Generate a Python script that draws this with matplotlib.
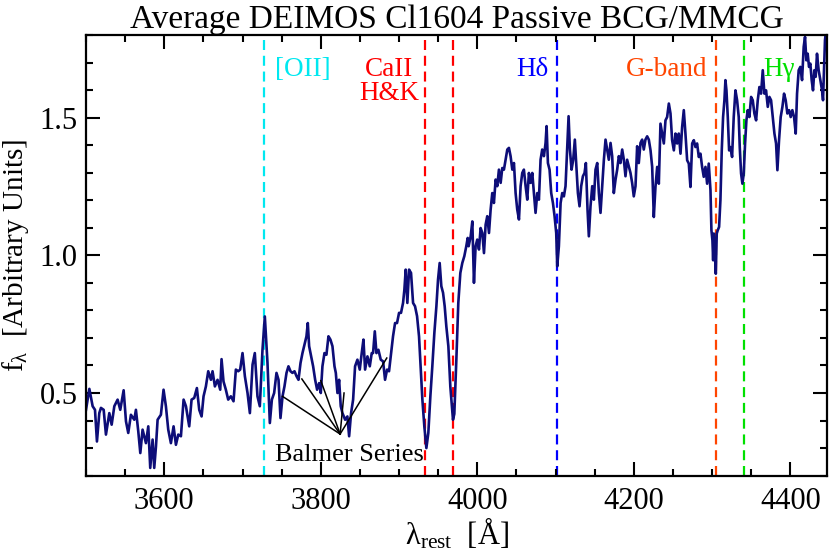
import matplotlib.pyplot as plt
from matplotlib.ticker import MultipleLocator

plt.rcParams['font.family'] = ['Liberation Serif', 'DejaVu Serif']
plt.rcParams['mathtext.fontset'] = 'custom'
plt.rcParams['mathtext.rm'] = 'Liberation Serif'
plt.rcParams['mathtext.it'] = 'Liberation Serif:italic'

# espectro medio
wave = [
    3500.0, 3504.3, 3508.5, 3511.5, 3514.0, 3517.0, 3519.1, 3522.6, 3525.5, 3529.8,
    3532.8, 3536.2, 3540.4, 3543.8, 3548.1, 3551.1, 3554.0, 3557.4, 3561.7, 3563.8,
    3566.8, 3569.4, 3572.3, 3576.6, 3579.6, 3582.1, 3585.1, 3587.2, 3589.4, 3591.5,
    3595.7, 3599.1, 3602.1, 3605.1, 3608.5, 3611.9, 3614.9, 3617.9, 3621.3, 3624.7,
    3627.7, 3631.9, 3634.9, 3638.3, 3641.7, 3644.7, 3647.7, 3650.2, 3653.2, 3656.2,
    3659.6, 3661.7, 3664.7, 3668.1, 3671.5, 3673.2, 3675.7, 3678.7, 3681.7, 3685.1,
    3688.5, 3691.5, 3694.5, 3697.0, 3700.0, 3703.0, 3706.4, 3709.4, 3712.8, 3715.7,
    3719.1, 3722.1, 3725.5, 3728.5,
    3731.9, 3734.9, 3737.5, 3740.4, 3743.4, 3746.0, 3748.5, 3751.1, 3753.6, 3756.2,
    3758.7, 3761.3, 3763.8, 3766.4, 3769.0, 3771.5, 3774.1, 3776.6, 3779.2, 3781.7,
    3783.4, 3785.1, 3787.7, 3790.2, 3792.8, 3795.3, 3797.9, 3800.0, 3802.1, 3804.7,
    3807.2, 3809.8, 3812.3, 3814.9, 3817.5, 3819.2, 3821.3, 3823.4, 3825.5, 3827.7,
    3831.1, 3834.0, 3836.2, 3838.7, 3841.3, 3843.8, 3846.8, 3849.8, 3852.3, 3854.5,
    3856.6, 3859.6, 3862.6, 3865.1, 3866.8, 3869.0, 3871.1, 3873.6, 3876.6, 3879.6,
    3882.1, 3884.7, 3887.2, 3889.8, 3892.3, 3894.9, 3897.4, 3900.0, 3902.5, 3905.1,
    3906.8, 3908.5, 3910.6, 3912.8, 3915.3, 3917.9, 3920.4, 3923.0, 3925.5, 3927.7,
    3929.8, 3932.3, 3934.9, 3937.4, 3940.0, 3942.5, 3945.1, 3947.7, 3949.8, 3951.9,
    3954.0, 3956.2, 3958.3, 3960.4, 3963.0, 3965.5, 3968.9, 3970.6, 3973.2, 3975.7,
    3978.3, 3980.8, 3983.4, 3985.9, 3987.7,
    3988.9, 3991.5, 3993.6, 3995.7, 3997.8, 3999.9, 4002.1, 4004.2, 4006.4, 4008.5,
    4010.6, 4012.7, 4014.9, 4017.0, 4019.1, 4021.2, 4023.4, 4025.5, 4027.6, 4029.8,
    4031.9, 4034.0, 4036.1, 4038.3, 4040.4, 4042.5, 4044.7, 4046.8, 4048.9, 4051.0,
    4053.2, 4055.3, 4057.4, 4059.5, 4061.7, 4063.8, 4065.9, 4068.1, 4070.2, 4072.3,
    4074.4, 4076.6, 4078.7, 4080.8, 4082.9, 4085.1, 4087.2, 4088.5, 4090.2, 4092.3,
    4094.4, 4096.6, 4098.7, 4100.8, 4102.1, 4104.2, 4106.4, 4108.5, 4110.6, 4112.7,
    4114.9, 4116.6, 4118.3, 4120.4, 4122.5, 4124.6, 4126.8, 4128.5, 4130.6, 4132.7,
    4134.9, 4137.0, 4138.7, 4140.8, 4142.5, 4144.6, 4146.8, 4148.9, 4151.0, 4153.2,
    4155.3, 4157.4, 4159.5, 4161.7, 4163.8, 4165.9, 4168.0, 4170.2, 4172.3, 4174.4,
    4176.6, 4178.7, 4180.8, 4182.9, 4185.1, 4187.2, 4189.3, 4191.4, 4193.6, 4195.7,
    4197.8, 4199.9, 4202.1, 4204.2, 4206.3, 4208.5, 4210.6, 4212.7, 4214.8, 4217.0,
    4219.1,
    4221.3, 4223.4, 4225.5, 4227.6, 4229.8, 4231.9, 4234.0, 4236.2, 4238.3, 4240.4,
    4242.5, 4244.7, 4246.8, 4248.9, 4251.1, 4253.2, 4255.3, 4257.4, 4259.6, 4261.7,
    4263.8, 4265.9, 4268.1, 4270.2, 4272.3, 4274.5, 4276.6, 4278.7, 4280.8, 4283.0,
    4285.1, 4287.2, 4289.3, 4291.5, 4293.6, 4295.7, 4297.9, 4299.1, 4300.4, 4301.3,
    4302.1, 4303.4, 4304.7, 4305.9, 4307.2, 4308.9, 4310.6, 4312.3, 4314.0, 4315.7,
    4317.0, 4318.3, 4320.0, 4321.7, 4323.4, 4325.5, 4327.6, 4329.8, 4331.9, 4334.0,
    4335.3, 4337.0, 4338.7, 4340.4, 4342.1, 4343.8, 4345.5, 4347.6, 4349.8, 4351.9,
    4354.0, 4356.2, 4358.3, 4360.4, 4362.5, 4364.7, 4366.8, 4368.9, 4371.1, 4373.2,
    4375.3, 4377.4, 4379.6, 4381.7, 4383.4, 4385.5, 4387.6, 4389.8, 4391.9, 4394.0,
    4396.1, 4398.3, 4400.4, 4402.5, 4404.7, 4406.8, 4408.5, 4410.6, 4412.7, 4414.9,
    4417.0, 4418.7, 4420.4, 4422.1, 4423.8, 4425.5, 4427.2, 4428.9, 4430.6, 4432.3,
    4434.0, 4436.1, 4438.3, 4440.4, 4441.7, 4443.0, 4444.2, 4445.1,
]
flux = [
    0.439, 0.515, 0.452, 0.439, 0.324, 0.427, 0.446, 0.439, 0.349, 0.427,
    0.385, 0.452, 0.476, 0.439, 0.510, 0.397, 0.355, 0.421, 0.403, 0.439,
    0.361, 0.282, 0.367, 0.318, 0.379, 0.228, 0.331, 0.228, 0.306, 0.403,
    0.421, 0.512, 0.452, 0.367, 0.318, 0.379, 0.312, 0.349, 0.343, 0.476,
    0.452, 0.379, 0.476, 0.482, 0.518, 0.439, 0.415, 0.488, 0.524, 0.579,
    0.548, 0.579, 0.524, 0.548, 0.512, 0.623, 0.542, 0.512, 0.476, 0.488,
    0.470, 0.585, 0.579, 0.585, 0.645, 0.561, 0.500, 0.427, 0.603, 0.645,
    0.488, 0.452, 0.657, 0.778,
    0.609, 0.391, 0.476, 0.500, 0.573, 0.548, 0.409, 0.488, 0.524, 0.573,
    0.597, 0.579, 0.573, 0.579, 0.561, 0.548, 0.609, 0.645, 0.676, 0.706,
    0.754, 0.670, 0.633, 0.597, 0.548, 0.512, 0.536, 0.500, 0.597, 0.645,
    0.639, 0.706, 0.694, 0.670, 0.597, 0.573, 0.500, 0.548, 0.452, 0.427,
    0.403, 0.415, 0.343, 0.427, 0.476, 0.597, 0.621, 0.585, 0.645, 0.694,
    0.585, 0.633, 0.597, 0.645, 0.645, 0.724, 0.645, 0.657, 0.621, 0.615,
    0.548, 0.585, 0.579, 0.645, 0.706, 0.754, 0.754, 0.791, 0.791, 0.827,
    0.875, 0.948, 0.827, 0.948, 0.936, 0.827, 0.815, 0.779, 0.706, 0.585,
    0.476, 0.379, 0.300, 0.355, 0.488, 0.597, 0.718, 0.815, 0.912, 0.972,
    0.888, 0.864, 0.815, 0.742, 0.670, 0.524, 0.403, 0.424, 0.621, 0.827,
    0.936, 0.972, 0.997, 1.033, 1.063,
    1.033, 1.069, 1.123, 0.900, 1.033, 1.057, 1.021, 1.099, 1.081, 1.008,
    1.111, 1.142, 1.081, 1.166, 1.226, 1.190, 1.275, 1.251, 1.311, 1.263,
    1.317, 1.311, 1.347, 1.384, 1.390, 1.360, 1.311, 1.335, 1.226, 1.166,
    1.130, 1.251, 1.299, 1.311, 1.251, 1.202, 1.299, 1.263, 1.299, 1.226,
    1.154, 1.226, 1.202, 1.347, 1.384, 1.360, 1.408, 1.469, 1.335, 1.311,
    1.226, 1.190, 1.142, 1.081, 0.960, 1.033, 1.190, 1.226, 1.214, 1.251,
    1.396, 1.505, 1.384, 1.311, 1.347, 1.420, 1.311, 1.226, 1.178, 1.251,
    1.287, 1.299, 1.335, 1.166, 1.069, 1.178, 1.251, 1.202, 1.311, 1.335,
    1.226, 1.154, 1.251, 1.347, 1.420, 1.384, 1.347, 1.408, 1.360, 1.226,
    1.275, 1.311, 1.360, 1.335, 1.384, 1.347, 1.287, 1.347, 1.323, 1.299,
    1.263, 1.214, 1.251, 1.396, 1.335, 1.408, 1.420, 1.384, 1.420, 1.432,
    1.420,
    1.381, 1.321, 1.139, 1.248, 1.321, 1.260, 1.478, 1.442, 1.406, 1.490,
    1.502, 1.551, 1.515, 1.418, 1.381, 1.442, 1.406, 1.442, 1.369, 1.466,
    1.527, 1.442, 1.345, 1.333, 1.248, 1.406, 1.418, 1.393, 1.406, 1.357,
    1.369, 1.321, 1.285, 1.321, 1.260, 1.333, 1.236, 1.091, 1.054, 0.982,
    1.079, 1.018, 0.933, 1.079, 1.091, 1.103, 1.200, 1.381, 1.502, 1.563,
    1.636, 1.599, 1.502, 1.381, 1.393, 1.357, 1.502, 1.599, 1.563, 1.502,
    1.393, 1.297, 1.260, 1.297, 1.406, 1.490, 1.527, 1.502, 1.575, 1.563,
    1.515, 1.490, 1.563, 1.611, 1.587, 1.672, 1.587, 1.599, 1.539, 1.575,
    1.563, 1.502, 1.442, 1.406, 1.309, 1.418, 1.502, 1.539, 1.587, 1.563,
    1.515, 1.527, 1.502, 1.527, 1.502, 1.442, 1.587, 1.672, 1.684, 1.636,
    1.757, 1.793, 1.708, 1.732, 1.684, 1.696, 1.636, 1.599, 1.672, 1.648,
    1.732, 1.672, 1.636, 1.599, 1.563, 1.672, 1.781, 1.805,
]

# linhas espectrais
line_waves = [3727.0, 3933.7, 3968.5, 4101.7, 4304.4, 4340.5]
line_colors = ['#00e8f0', '#ff0000', '#ff0000', '#0000ff', '#ff4500', '#00e000']

# Serie de Balmer (ponta das setas)
balmer_x = [3751.0, 3775.8, 3800.0, 3829.7, 3884.3]
balmer_y = [0.488, 0.551, 0.545, 0.500, 0.627]
balmer_vertex = (3824.7, 0.351)

fig = plt.figure(figsize=(8.3, 5.55), dpi=100)
ax = fig.add_axes([0.1036, 0.143, 0.893, 0.794])

for w, c in zip(line_waves, line_colors):
    ax.axvline(w, color=c, lw=1.6, dashes=(4.5, 2.6), zorder=1)

ax.plot(wave, flux, color='#0d0d78', lw=1.9, zorder=2)

for bx, by in zip(balmer_x, balmer_y):
    ax.plot([balmer_vertex[0], bx], [balmer_vertex[1], by], color='black', lw=1.1, zorder=3)
ax.text(3837, 0.276, 'Balmer Series', fontsize=19, ha='center', va='center')

lab_fs = 19.5
ax.text(3742, 1.674, '[OII]', color='#00e8f0', fontsize=lab_fs, ha='left', va='center')
ax.text(3887.5, 1.674, 'CaII', color='#ff0000', fontsize=lab_fs, ha='center', va='center')
ax.text(3887.5, 1.588, 'H&K', color='#ff0000', fontsize=lab_fs, ha='center', va='center')
ax.text(4091, 1.674, 'Hδ', color='#0000ff', fontsize=lab_fs, ha='right', va='center')
ax.text(4294, 1.674, 'G-band', color='#ff4500', fontsize=lab_fs, ha='right', va='center')
ax.text(4365.5, 1.674, 'Hγ', color='#00e000', fontsize=lab_fs, ha='left', va='center')

ax.set_xlim(3500, 4447)
ax.set_ylim(0.2, 1.8)
ax.xaxis.set_major_locator(MultipleLocator(200))
ax.xaxis.set_minor_locator(MultipleLocator(50))
ax.yaxis.set_major_locator(MultipleLocator(0.5))
ax.yaxis.set_minor_locator(MultipleLocator(0.1))
ax.tick_params(which='both', direction='in', top=True, right=True, width=1.5, labelsize=22)
ax.tick_params(which='major', length=10)
ax.tick_params(axis='x', which='major', pad=8)
ax.tick_params(axis='y', which='major', pad=6)
ax.tick_params(which='minor', length=5)
for s in ax.spines.values():
    s.set_linewidth(1.6)

ax.set_title('Average DEIMOS Cl1604 Passive BCG/MMCG', fontsize=24, pad=5)
ax.set_xlabel(r'$\mathrm{\lambda_{rest}}$  [Å]', fontsize=22, labelpad=0)
ax.set_ylabel(r'$\mathrm{f_{\lambda}}$  [Arbitrary Units]', fontsize=21, labelpad=6)

plt.savefig('out.png', dpi=100)
plt.close()
